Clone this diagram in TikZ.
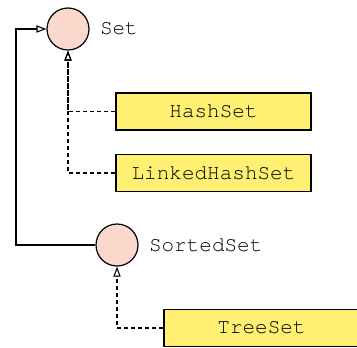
\documentclass[tikz,border=0pt]{standalone}
\usepackage{fontspec}
\setmonofont{TeX Gyre Cursor}
\usetikzlibrary{arrows.meta, positioning}
\definecolor{ifacefill}{RGB}{250,217,204}
\definecolor{classfill}{RGB}{255,240,115}
\tikzset{
  iface/.style={circle, draw=black, fill=ifacefill, minimum size=21pt,
    inner sep=0pt, line width=0.6pt},
  ifacelabel/.style={font=\ttfamily\fontsize{10.5}{12}\selectfont, inner sep=0pt},
  classbox/.style={rectangle, draw=black, fill=classfill, minimum width=97.5pt,
    minimum height=18.5pt, inner sep=0pt, line width=0.6pt,
    font=\ttfamily\fontsize{10.5}{12}\selectfont},
  implements/.style={-{Triangle[open, length=5pt, width=3.6pt]}, line width=0.55pt,
    dash pattern=on 2pt off 1.5pt},
  extends/.style={-{Triangle[open, length=5pt, width=3.6pt]}, line width=0.55pt}
}
\begin{document}
\begin{tikzpicture}[x=0.5pt, y=-0.5pt]
  \useasboundingbox (0,0) rectangle (357,347);
  % interfaces
  \node[iface, label={[ifacelabel, xshift=5pt]right:Set}] (set) at (68,29) {};
  \node[iface, label={[ifacelabel, xshift=5pt]right:SortedSet}] (sortedset) at (117,245) {};
  % classes
  \node[classbox] (hashset) at (213.5,111.5) {HashSet};
  \node[classbox] (linkedhashset) at (213.5,173) {LinkedHashSet};
  \node[classbox] (treeset) at (261.5,328) {TreeSet};
  % SortedSet extends Set
  \coordinate (bend) at (16,245);
  \draw[extends] (sortedset.west) -- (bend) |- (set.west);
  % implementations
  \draw[implements] (hashset.west) -| (set.south);
  \draw[implements] (linkedhashset.west) -| (set.south);
  \draw[implements] (treeset.west) -| (sortedset.south);
\end{tikzpicture}
\end{document}
